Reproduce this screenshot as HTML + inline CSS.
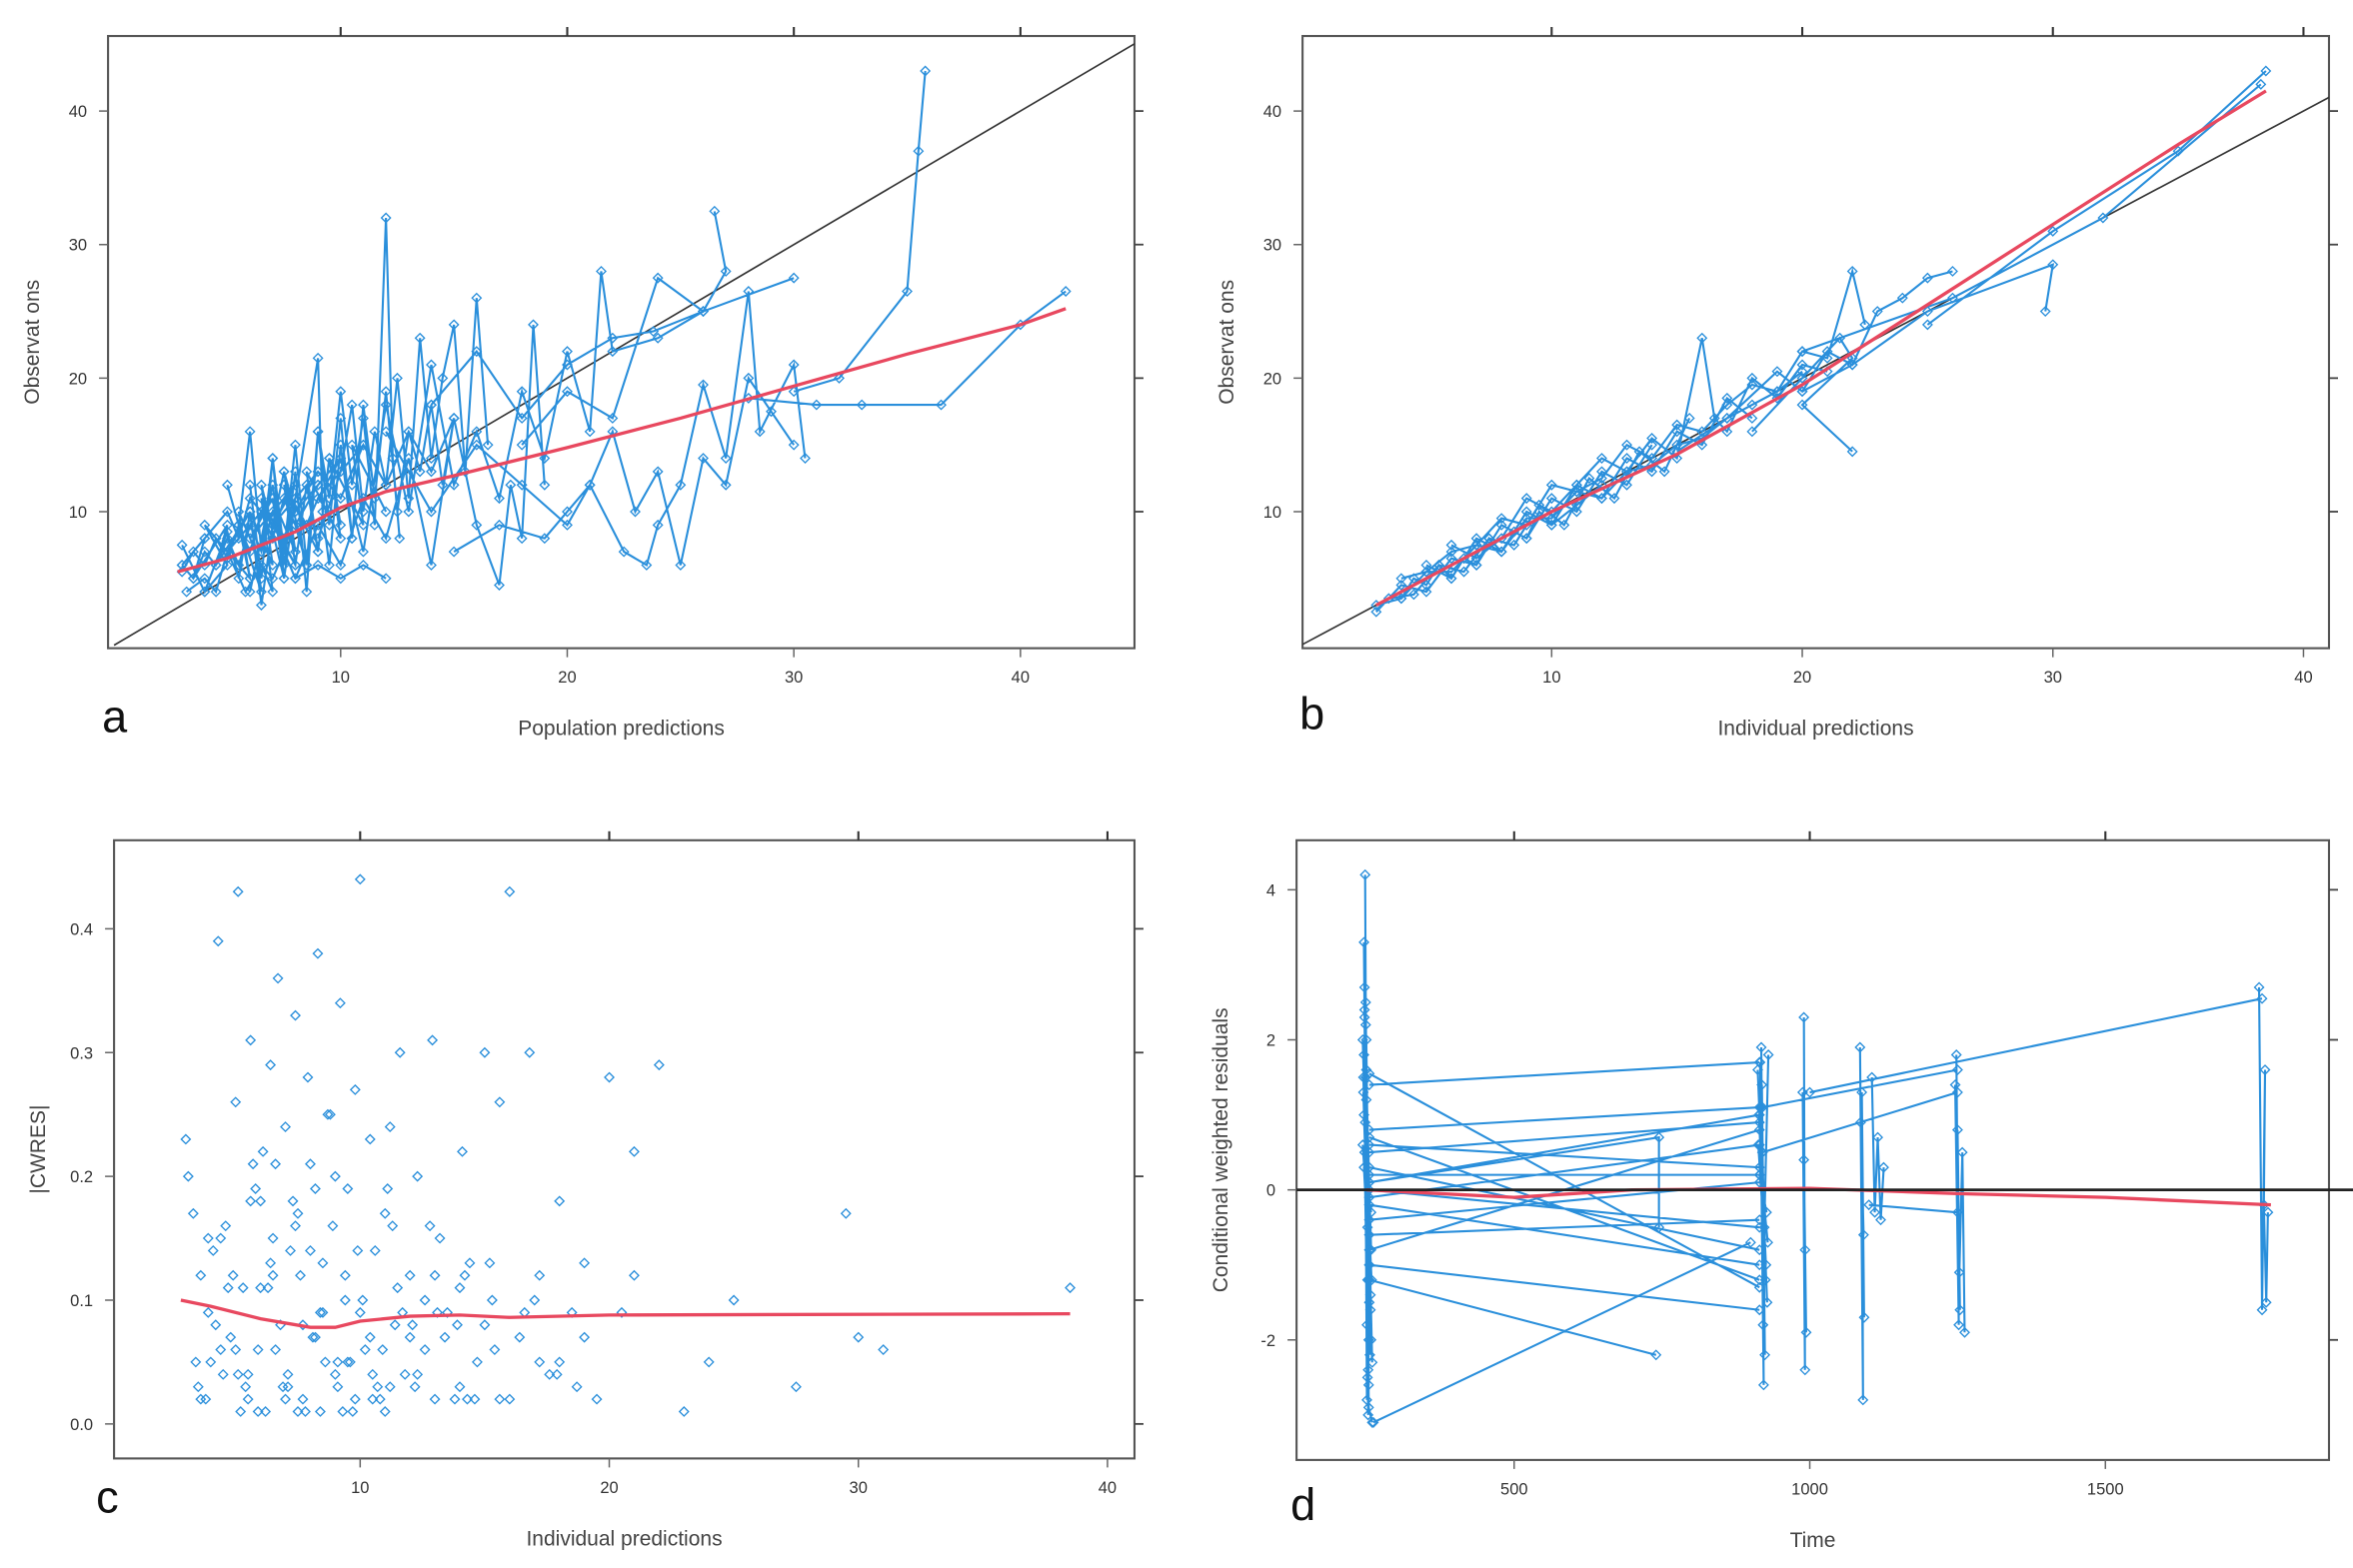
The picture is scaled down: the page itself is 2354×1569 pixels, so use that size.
<!DOCTYPE html>
<html><head><meta charset="utf-8"><style>
html,body{margin:0;padding:0;background:#fff}
svg{display:block}
text{font-family:"Liberation Sans",sans-serif}
</style></head><body>
<svg id="fig" xmlns="http://www.w3.org/2000/svg" width="2354" height="1569" viewBox="0 0 1568 1045" preserveAspectRatio="none">
<rect x="0" y="0" width="1568" height="1045" fill="#fff"/>
</svg>
<script>
// ---------- Panel a data (population predictions vs observations) ----------
const aPred = [3,3.5,4,4.5,5,5.5,6,6.5,7,7.5,8,9,null,
 3,4,5,5.5,6,6.5,7,8,8.5,9,9.5,10,null,
 5,5.5,6,6.5,7,7.5,8,9,9.2,9.5,10,10.5,null,
 6,7,7.5,8,8.5,9,9.5,10,10.5,11,11.5,12,12.3,12.6,null,
 9,10,10.5,11,11.5,12,12.5,13,13.5,14,14.5,15,15.5,16,16.5,null,
 8,9,10,11,12,13,14,15,16,17,17.5,18,18.5,19,null,
 10,11,12,13,14,15,16,17,18,19,20,21,21.5,22,24,26,null,
 12,14,16,18,20,21,22,23,24,25,26,27,28,29,30,null,
 15,17,19,20,21,22.5,23.5,24,25,26,27,28,28.5,30,30.5,null,
 18,20,22,24,26,27,26.5,null,
 14,16,18,20,22,23.8,26,30,null,
 28,31,33,36.5,40,42,null,
 30,32,35,35.5,35.8,null,
 3,3.5,4,4.5,5,5.5,6,6.5,7,7.5,8,8.5,9,9.5,null,
 3.2,4,4.5,5,5.8,6.5,7,7.5,8,9,10,11,12,null,
 4,5,5.5,6,7,7.5,8,9,10,11,12,13,14,15,null,
 3,4,3.5,5,4.5,6,5,7,6,8,7,9,8,10,9,11,null,
 4,5,4,6,5.5,7,6.5,8,7.5,9,8.5,10,9.5,11,10.5,12,null,
 5,6,5.5,6.5,6,7,6.5,7.5,7,8,7.5,8.5,8,9,null,
 6,6.5,7,7.5,8,8.5,9,9.5,10,10.5,11,11.5,12,12.5,13,13.5,14,14.5,15];
const aObs = [5.5,7,6,8,6.5,9,7,10,8,11,9,12,null,
 7.5,4,8.5,5,10,3,9,6,12,7,14,9,null,
 12,9,16,7,14,5,11,21.5,10,6,15,8,null,
 4,12,6,13,4,16,11,19,12,17,9,32,14,8,null,
 8,13,18,10,16,12,20,11,23,14,20,24,13,26,15,null,
 5,9,6,11,8,14,6,17,9,4.5,12,8,24,12,null,
 14,7,18,10,21,12,16,11,19,14,22,16,28,22,23,25,null,
 16,10,15,12,9,12,16,10,13,6,14,12,20,17.5,15,null,
 7,9,8,10,12,7,6,9,12,19.5,14,26.5,16,21,14,null,
 15,19,17,27.5,25,28,32.5,null,
 18,22,17,21,23,23.5,25,27.5,null,
 18.5,18,18,18,24,26.5,null,
 19,20,26.5,37,43,null,
 6,5,7,6,8,6,9,7,10,8,10.5,9,11,10,null,
 4,5,4,7,4,6,5,7,5,6,5,6,5,null,
 8,10,8,11,9,13,10,13,11,15,12,16,13,17,null,
 6,8,5,9,6,10,7,11,8,12,9,13,10,14,11,15,null,
 4,6,9,5,10,4,11,6,12,7,13,8,14,9,15,10,null,
 7,5,9,4,10,6,12,5,11,7,13,6,9,12,null,
 12,5,14,7,15,6,16,9,17,8,18,11,19,10,16,13,18,12,17];
const aFitX = [2.8,5,8,10,12,15,20,25,30,35,40,42];
const aFitY = [5.5,6.5,8.5,10.3,11.5,12.7,14.8,17,19.4,21.8,24,25.2];
const aTicks = [10,20,30,40];

// ---------- Panel b data (individual predictions vs observations) ----------
const bPred = [3,4,5,6,7,8,9,10,11,12,13,14,null,
 3.5,4.5,5.5,6.5,7.5,8.5,9.5,10.5,11.5,12.5,13.5,14.5,15.5,null,
 5,6,7,8,9,10,11,12,13,14,15,16,17,18,null,
 6,7,8,9,10,11,12,13,14,15,16,16.5,17,18,19,20,21,null,
 4,5,6,7,8,9,10,11,12,13,14,15,16,17,18,19,20,21,22,22.5,null,
 15,17,19,20,21,22,23,24,25,26,null,
 18,20,21.5,22,20,22,null,
 20,22,25,30,29.7,null,
 25,30,35,38.5,null,
 20,26,32,38.3,null,
 3,4,5,6,7,8,9,10,11,12,13,14,15,16,17,18,19,20,null,
 4,4.5,5,5.5,6,6.5,7,7.5,8,8.5,9,9.5,10,11,12];
const bObs = [2.5,4.5,4,6.5,6,9,8,11,10,13,12,15,null,
 3.5,3.8,6,5.5,8,7.5,10.5,9,12.5,11,14.5,13,17,null,
 6,5,8,7,10,9,12,11,14,13,16,15,18.5,17,null,
 7.5,6.5,8,11,10,12,14,13,15.5,14,23,17,16,20,18.5,21,20.5,null,
 5,5.5,7,7.5,9.5,9,12,11.5,12.5,15,14,16.5,16,18,19.5,19,22,21.5,28,24,null,
 14.5,17,20.5,19,22,21,25,26,27.5,28,null,
 16,20,23,21.5,18,14.5,null,
 19,21,25,28.5,25,null,
 24,31,37,43,null,
 22,26,32,42,null,
 3,3.5,5.5,5.5,7.5,7,9.5,9.5,11.5,11,13,13.5,15,15.5,17,18,19,20.5,null,
 3.5,5,4.5,6,5,6.5,6,8,7,8.5,8,10,9,10.5,12];
const bFitX = [3,6,10,15,20,25,30,35,38.5];
const bFitY = [3,6,10,14.3,19.5,25.5,31.5,37.5,41.5];
const bTicks = [10,20,30,40];

// ---------- Panel c data (|CWRES| vs individual predictions) ----------
const cX = [3,3.1,3.3,3.4,3.6,3.8,3.9,4.1,4.3,4.5,
 4.6,4.8,5,5.1,5.3,5.4,5.6,5.8,5.9,6.1,
 6.2,6.4,6.5,6.7,6.8,7,7.1,7.3,7.4,7.6,
 7.7,7.9,8,8.2,8.3,8.5,8.6,8.8,8.9,9.1,
 9.2,9.4,9.5,9.7,9.8,10,10.2,10.4,10.6,10.8,
 11,11.2,11.4,11.6,11.8,12,12.3,12.6,12.9,13.2,
 13.5,13.8,14.1,14.4,14.7,15,15.3,15.6,16,16.4,
 16.8,17.2,17.6,18,18.5,19,19.5,20,21,22,
 4,4.4,5.2,5.7,6.3,6.9,7.5,8.1,8.7,9.3,
 9.9,10.5,11.1,11.7,12.2,12.8,13.4,14,14.6,15.2,
 3.5,4.2,4.9,5.5,6,6.6,7.2,7.8,8.4,9,
 9.6,10.1,10.7,11.3,12.1,13,14.2,15.4,16.6,17.9,
 5,6,7,8,9,10,11,12,13,14,
 15,16,17,18,19,21,23,25,27.5,29.5,
 30,31,38.5,5.5,6.5,7.5,8.5,9.5,10.5,11.5,
 3.6,4.4,5.1,5.9,6.4,7.1,7.7,8.4,9.1,9.8,
 10.4,11.2,12.3,13.1,14.3,3.9,4.7,5.6,6.6,7.4,
 8.2,9.4,10.9,12.6,13.9,15.6,17.2,18.7,20.5,24];
const cY = [0.23,0.2,0.17,0.05,0.12,0.02,0.09,0.14,0.39,0.04,
 0.16,0.07,0.26,0.43,0.11,0.03,0.31,0.19,0.06,0.22,
 0.01,0.29,0.15,0.36,0.08,0.24,0.04,0.18,0.33,0.12,
 0.02,0.28,0.21,0.07,0.38,0.13,0.05,0.25,0.16,0.03,
 0.34,0.1,0.19,0.01,0.27,0.44,0.06,0.23,0.14,0.02,
 0.17,0.24,0.08,0.3,0.04,0.12,0.2,0.06,0.31,0.15,
 0.09,0.02,0.22,0.13,0.05,0.3,0.1,0.26,0.43,0.07,
 0.3,0.12,0.04,0.18,0.09,0.13,0.02,0.28,0.22,0.29,
 0.05,0.15,0.01,0.21,0.11,0.03,0.17,0.07,0.25,0.01,
 0.14,0.04,0.19,0.09,0.03,0.16,0.07,0.11,0.02,0.13,
 0.03,0.08,0.12,0.02,0.18,0.06,0.14,0.01,0.09,0.2,
 0.05,0.1,0.03,0.16,0.08,0.02,0.12,0.06,0.09,0.04,
 0.06,0.11,0.02,0.14,0.04,0.09,0.01,0.07,0.12,0.03,
 0.08,0.02,0.1,0.05,0.07,0.12,0.01,0.1,0.03,0.17,
 0.07,0.06,0.11,0.04,0.12,0.01,0.09,0.05,0.02,0.11,
 0.02,0.06,0.04,0.01,0.13,0.03,0.08,0.01,0.05,0.02,
 0.07,0.03,0.04,0.09,0.02,0.15,0.11,0.18,0.21,0.16,
 0.19,0.12,0.06,0.1,0.08,0.02,0.05,0.03,0.09,0.05];
const cFitX = [2.8,4,6,8,9,10,12,14,16,20,38.5];
const cFitY = [0.1,0.095,0.085,0.078,0.078,0.083,0.087,0.088,0.086,0.088,0.089];
const cXTicks = [10,20,30,40];
const cYTicks = [0,0.1,0.2,0.3,0.4];

// ---------- Panel d data (CWRES vs time) ----------
const dT = [248,252,246,254,249,251,247,255,250,253,246,256,249,252,247,254,250,251,248,255,249,253,247,252,250,254,260,null,
 255,915,null,255,915,null,255,915,null,255,915,null,255,915,null,255,915,null,255,915,null,255,915,null,255,915,null,
 255,915,null,255,915,null,255,915,null,255,915,null,255,915,null,255,915,null,255,915,null,255,740,null,262,900,null,
 255,745,745,null,
 918,922,916,924,919,921,917,925,920,923,930,null,
 990,992,988,994,990,992,null,1085,1090,1088,1092,1086,1091,null,1105,1110,1115,1120,1125,null,
 1248,1252,1246,1254,1250,1253,1258,1262,null,1760,1765,1770,1768,1772,1775,null,
 920,1250,null,920,1250,null,1000,1765,null,1100,1250,null,
 244,258,245,257,246,259,244,258,247,260,245,257,246,258,null,
 912,928,914,926,913,929,915,927];
const dR = [4.2,-2.5,3.3,-2,2.5,-2.8,2.7,-1.5,2,-3,1.8,-2.2,1.5,-1.2,2.4,-2.6,1.2,-1.8,0.9,-1,2.2,-2.4,0.5,-0.5,1.6,-2.9,-3.1,null,
 1.55,-1.3,null,1.4,1.7,null,0.8,1.1,null,0.7,-1.2,null,0.6,0.3,null,0.5,0.9,null,0.3,-0.8,null,0.2,0.2,null,0.1,1.0,null,
 0,-0.5,null,-0.1,0.6,null,-0.2,-1.0,null,-0.4,0.1,null,-0.6,-0.4,null,-0.8,0.8,null,-1,-1.6,null,-1.2,-2.2,null,-3.1,-0.7,null,
 0.1,0.7,-0.5,null,
 1.9,-2.6,1.7,-2.2,1.4,-1.8,1.1,-1.2,0.5,-0.5,1.8,null,
 2.3,-2.4,1.3,-1.9,0.4,-0.8,null,1.9,-2.8,1.3,-1.7,0.9,-0.6,null,1.5,-0.3,0.7,-0.4,0.3,null,
 1.8,-1.8,1.4,-1.6,0.8,-1.1,0.5,-1.9,null,2.7,-1.6,1.6,-0.2,-1.5,-0.3,null,
 1.1,1.6,null,0.5,1.3,null,1.3,2.55,null,-0.2,-0.3,null,
 2.0,-2.0,1.5,-1.6,1.0,-1.2,0.6,-0.8,2.3,-2.3,1.3,-1.4,0.3,-0.3,null,
 1.6,-1.5,1.0,-1.0,0.6,-0.7,0.2,-0.3];
const dFitX = [250,500,700,1000,1250,1500,1780];
const dFitY = [0,-0.1,0,0.02,-0.05,-0.1,-0.2];
const dXTicks = [500,1000,1500];
const dYTicks = [-2,0,2,4];

const NS = 'http://www.w3.org/2000/svg';
const svg = document.getElementById('fig');
const BLUE = '#2a8fdb', RED = '#e8485f';

function mk(tag, attrs, parent, name) {
  const el = document.createElementNS(NS, tag);
  for (const k in attrs) el.setAttribute(k, attrs[k]);
  
  
  parent.appendChild(el);
  return el;
}
function lin(d0, d1, r0, r1) { return v => r0 + (v - d0) * (r1 - r0) / (d1 - d0); }

function panel(cfg) {
  const g = mk('g', {}, svg, cfg.id);
  const clip = mk('clipPath', {id: cfg.id + '-clip'}, g, cfg.id + '-clip');
  mk('rect', {x: cfg.box[0], y: cfg.box[1], width: cfg.box[2] - cfg.box[0], height: cfg.box[3] - cfg.box[1]}, clip, 'clip-rect');
  const sx = cfg.sx, sy = cfg.sy;
  const [x0, y0, x1, y1] = cfg.box;
  mk('rect', {x: x0, y: y0, width: x1 - x0, height: y1 - y0, fill: 'none', stroke: '#555', 'stroke-width': 1.4}, g, 'plot-frame');
  cfg.xt.forEach(v => {
    const X = sx(v);
    mk('line', {x1: X, y1: y1, x2: X, y2: y1 + 6, stroke: '#666', 'stroke-width': 1}, g, 'x-tick');
    mk('line', {x1: X, y1: y0, x2: X, y2: y0 - 6, stroke: '#333', 'stroke-width': 1.4}, g, 'x-tick-top');
    const t = mk('text', {x: X, y: y1 + 23, 'font-size': 11, fill: '#333', 'text-anchor': 'middle'}, g, 'x-tick-label');
    t.textContent = cfg.xfmt ? cfg.xfmt(v) : v;
  });
  cfg.yt.forEach(v => {
    const Y = sy(v);
    mk('line', {x1: x0, y1: Y, x2: x0 - 6, y2: Y, stroke: '#666', 'stroke-width': 1}, g, 'y-tick');
    mk('line', {x1: x1, y1: Y, x2: x1 + 6, y2: Y, stroke: '#444', 'stroke-width': 1.2}, g, 'y-tick-right');
    const t = mk('text', {x: x0 - 14, y: Y + 4, 'font-size': 11, fill: '#333', 'text-anchor': 'end'}, g, 'y-tick-label');
    t.textContent = cfg.yfmt ? cfg.yfmt(v) : v;
  });
  const inner = mk('g', {'clip-path': 'url(#' + cfg.id + '-clip)'}, g, 'plot-area');
  if (cfg.ref) cfg.ref(inner);
  if (cfg.lines) {
    let d = '', pen = false;
    for (let i = 0; i < cfg.xs.length; i++) {
      if (cfg.xs[i] === null) { pen = false; continue; }
      d += (pen ? 'L' : 'M') + sx(cfg.xs[i]).toFixed(1) + ' ' + sy(cfg.ys[i]).toFixed(1);
      pen = true;
    }
    mk('path', {d: d, fill: 'none', stroke: BLUE, 'stroke-width': 1.4}, inner, 'subject-lines');
  }
  for (let i = 0; i < cfg.xs.length; i++) {
    if (cfg.xs[i] === null) continue;
    const X = sx(cfg.xs[i]), Y = sy(cfg.ys[i]), r = 3;
    mk('path', {d: `M${X} ${Y - r}L${X + r} ${Y}L${X} ${Y + r}L${X - r} ${Y}Z`, fill: 'none', stroke: BLUE, 'stroke-width': 0.9}, inner, 'data-point');
  }
  let fd = '';
  cfg.fx.forEach((v, i) => { fd += (i ? 'L' : 'M') + sx(v).toFixed(1) + ' ' + sy(cfg.fy[i]).toFixed(1); });
  mk('path', {d: fd, fill: 'none', stroke: RED, 'stroke-width': 2.2}, inner, 'smooth-line');
  const xt = mk('text', {x: (x0 + x1) / 2, y: y1 + 58, 'font-size': 14, fill: '#444', 'text-anchor': 'middle'}, g, 'x-axis-title');
  xt.textContent = cfg.xtitle;
  const yx = x0 - 46, yy = (y0 + y1) / 2;
  const yt = mk('text', {x: yx, y: yy, 'font-size': 14, fill: '#444', 'text-anchor': 'middle', transform: `rotate(-90 ${yx} ${yy})`}, g, 'y-axis-title');
  yt.textContent = cfg.ytitle;
  const pl = mk('text', {x: cfg.lab[0], y: cfg.lab[1], 'font-size': 30, fill: '#111'}, g, 'panel-letter');
  pl.textContent = cfg.letter;
}

const axs = lin(0, 10, 76, 227), ays = lin(0, 10, 430, 341);
panel({id: 'panel-a', box: [72, 24, 756, 432], sx: axs, sy: ays, xt: aTicks, yt: [10, 20, 30, 40],
  xs: aPred, ys: aObs, lines: true, fx: aFitX, fy: aFitY, xtitle: 'Population predictions', ytitle: 'Observat ons',
  letter: 'a', lab: [68, 488],
  ref: g => mk('line', {x1: axs(0), y1: ays(0), x2: axs(46), y2: ays(46), stroke: '#333', 'stroke-width': 1.1}, g, 'identity-line')});
const bxs = lin(0, 10, 867, 1034), bys = lin(0, 10, 430, 341);
panel({id: 'panel-b', box: [868, 24, 1552, 432], sx: bxs, sy: bys, xt: bTicks, yt: [10, 20, 30, 40],
  xs: bPred, ys: bObs, lines: true, fx: bFitX, fy: bFitY, xtitle: 'Individual predictions', ytitle: 'Observat ons',
  letter: 'b', lab: [866, 486],
  ref: g => mk('line', {x1: bxs(0), y1: bys(0), x2: bxs(45), y2: bys(45), stroke: '#333', 'stroke-width': 1.1}, g, 'identity-line')});
const cxs = lin(0, 10, 74, 240), cys = lin(0, 0.1, 949, 866.5);
panel({id: 'panel-c', box: [76, 560, 756, 972], sx: cxs, sy: cys, xt: cXTicks, yt: cYTicks,
  yfmt: v => v.toFixed(1), xs: cX, ys: cY, lines: false, fx: cFitX, fy: cFitY,
  xtitle: 'Individual predictions', ytitle: '|CWRES|', letter: 'c', lab: [64, 1008]});
const dxs = lin(500, 1000, 1009, 1206), dys = lin(0, 2, 793, 693);
panel({id: 'panel-d', box: [864, 560, 1552, 973], sx: dxs, sy: dys, xt: dXTicks, yt: dYTicks,
  xs: dT, ys: dR, lines: true, fx: dFitX, fy: dFitY,
  xtitle: 'Time', ytitle: 'Conditional weighted residuals', letter: 'd', lab: [860, 1013]});
mk('line', {x1: 864, y1: dys(0), x2: 1568, y2: dys(0), stroke: '#222', 'stroke-width': 1.8}, svg, 'zero-line');
</script>
</body></html>
